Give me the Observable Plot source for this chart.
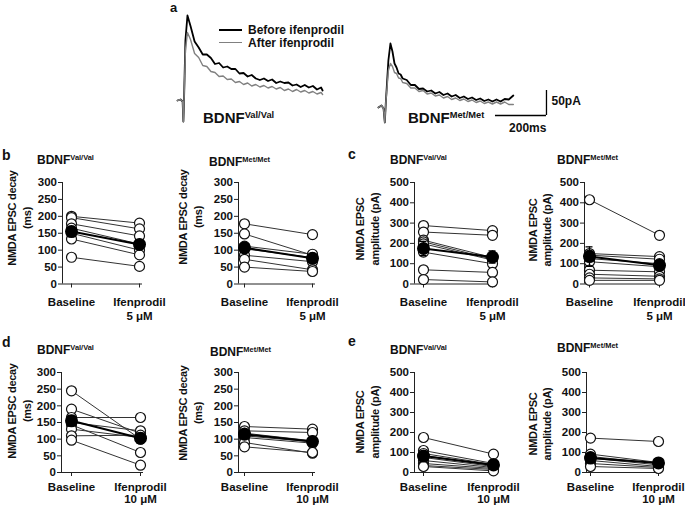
<!DOCTYPE html>
<html><head><meta charset="utf-8">
<script src="https://cdn.jsdelivr.net/npm/d3@7"></script>
<script src="https://cdn.jsdelivr.net/npm/@observablehq/plot@0.6"></script>
<style>
body{margin:0;background:#fff;}
#fig{position:relative;width:685px;height:508px;overflow:hidden;font-family:"Liberation Sans",Arial,sans-serif;font-weight:bold;color:#111;}
#fig .lab{position:absolute;white-space:nowrap;line-height:1;}
#fig svg{position:absolute;overflow:visible;}
#fig .ytitle{position:absolute;white-space:nowrap;text-align:center;transform:translate(-50%,-50%) rotate(-90deg);font-size:11px;letter-spacing:-0.3px;}
sup{font-size:0.62em;position:relative;top:-0.55em;vertical-align:baseline;line-height:0;}
</style>
</head><body><div id="fig"></div>
<script>
// ---------- Panel a: example traces (time ms, current pA relative to baseline) ----------
const valBeforeT = [0,12,20,23,25,31,39,51,67,83,99,115,131,147,163,179,195,211,227,243,259,275,291,307,323,339,355,371,387,403,419,435,451,467,483,499,515,531,547,563,569];
const valBeforeI = [0,2,-2,-42,-10,120,170,149,118,106,92,92,85,73,75,66,68,63,63,54,55,48,51,44,41,44,39,42,35,38,35,36,30,32,27,31,26,29,22,26,20];
const valAfterT  = [0,12,20,23,25,31,39,51,67,83,99,115,131,147,163,179,195,211,227,243,259,275,291,307,323,339,355,371,387,403,419,435,451,467,483,499,515,531,547,563,569];
const valAfterI  = [0,2,-2,-42,-10,100,136,122,94,86,70,68,58,56,48,49,42,43,36,38,32,35,29,32,27,30,25,28,23,26,20,23,18,22,17,20,15,18,13,16,12];
const metBeforeT = [0,12,20,25,29,39,47,55,63,71,79,87,95,111,127,143,159,175,191,207,223,239,255,271,287,303,319,335,351,367,383,399,415,431,447,463,479,495,511,529];
const metBeforeI = [0,4,-2,-30,10,94,128,112,88,80,68,66,58,55,45,45,37,38,32,34,28,31,25,28,22,25,19,22,17,20,15,18,13,16,12,16,12,17,16,24];
const metAfterT  = [0,12,20,25,29,39,47,55,63,71,79,87,95,111,127,143,159,175,191,207,223,239,255,271,287,303,319,335,351,367,383,399,415,431,447,463,479,495,511,529];
const metAfterI  = [0,4,-2,-30,10,74,88,82,70,68,59,58,50,48,39,39,32,34,27,29,23,25,19,22,16,19,14,17,12,15,10,13,8,11,7,11,7,11,6,6];
const scaleBarMs = 200, scaleBarPA = 50;

// ---------- Panels b-e: individual cells and mean ± SEM ----------
const conditions5  = ["Baseline", "Ifenprodil\n5 μM"];
const conditions10 = ["Baseline", "Ifenprodil\n10 μM"];
const bValBase = [200,196,178,165,150,133,79],  bValIfen = [180,163,142,118,100,86,52];
const bValMean = [155,117], bValSem = [15,14];
const bMetBase = [178,148,112,104,85,73,50],    bMetIfen = [146,85,88,78,66,42,37];
const bMetMean = [107,76],  bMetSem = [11,10];
const cValBase = [288,256,216,208,198,157,70,22], cValIfen = [263,240,130,122,118,100,57,10];
const cValMean = [175,133], cValSem = [35,30];
const cMetBase = [415,150,142,125,110,68,48,30,18], cMetIfen = [240,135,122,100,85,60,38,25,18];
const cMetMean = [135,92],  cMetSem = [48,22];
const dValBase = [245,190,165,150,143,130,110,97], dValIfen = [100,118,165,125,60,105,112,22];
const dValMean = [155,103], dValSem = [16,15];
const dMetBase = [138,125,118,110,105,90,77],   dMetIfen = [130,120,95,92,88,58,60];
const dMetMean = [115,93],  dMetSem = [9,10];
const eValBase = [175,110,95,85,75,60,45,35,30], eValIfen = [92,45,40,35,30,25,20,15,8];
const eValMean = [82,38],   eValSem = [15,9];
const eMetBase = [172,92,80,72,60,45,30],       eMetIfen = [155,50,45,38,30,25,20];
const eMetMean = [72,48],   eMetSem = [17,15];

const fig = document.getElementById("fig");
function lab(html, x, yc, size, extra) {
  const d = document.createElement("div");
  d.className = "lab";
  d.innerHTML = html;
  d.style.left = x + "px";
  d.style.top = (yc - size * 0.49) + "px";
  d.style.fontSize = size + "px";
  if (extra) Object.assign(d.style, extra);
  fig.appendChild(d);
  return d;
}
function ytitle(lines, cx, cy, lh) {
  const d = document.createElement("div");
  d.className = "ytitle";
  d.innerHTML = lines.join("<br>");
  d.style.left = cx + "px"; d.style.top = cy + "px";
  d.style.lineHeight = lh + "px";
  fig.appendChild(d);
}

// ---------- Panel a plot ----------
(function () {
  const metOffsetT = 788, metOffsetI = -14;
  const rows = [];
  valBeforeT.forEach((t, i) => rows.push({s: "vb", t, v: valBeforeI[i]}));
  valAfterT.forEach((t, i) => rows.push({s: "va", t, v: valAfterI[i]}));
  metBeforeT.forEach((t, i) => rows.push({s: "mb", t: t + metOffsetT, v: metBeforeI[i] + metOffsetI}));
  metAfterT.forEach((t, i) => rows.push({s: "ma", t: t + metOffsetT, v: metAfterI[i] + metOffsetI}));
  const barX = 1447, barY = -30;
  const svg = Plot.plot({
    width: 390, height: 135, margin: 0,
    x: {domain: [-27.5, 1502], axis: null},
    y: {domain: [-70, 200], axis: null},
    style: {fontFamily: "Liberation Sans, Arial, sans-serif", fontWeight: "bold", fontSize: "12px", background: "transparent"},
    marks: [
      Plot.line(rows.filter(d => d.s.endsWith("b")), {x: "t", y: "v", z: "s", stroke: "#000", strokeWidth: 1.8}),
      Plot.line(rows.filter(d => d.s.endsWith("a")), {x: "t", y: "v", z: "s", stroke: "#808080", strokeWidth: 1.4}),
      Plot.ruleY([barY], {x1: barX - scaleBarMs, x2: barX, stroke: "#000", strokeWidth: 1.3}),
      Plot.ruleX([barX], {y1: barY, y2: barY + scaleBarPA, stroke: "#000", strokeWidth: 1.3}),
      Plot.text([scaleBarPA + "pA"], {x: barX, y: barY + scaleBarPA / 2 + 3, text: d => d, textAnchor: "start", dx: 5, fill: "#111"}),
      Plot.text([scaleBarMs + "ms"], {x: barX, y: barY, text: d => d, textAnchor: "end", dy: 13, fill: "#111"})
    ]
  });
  svg.style.left = "170px"; svg.style.top = "0px";
  fig.appendChild(svg);
})();
lab("a", 170, 7.5, 13);
// legend
const l1 = document.createElement("div");
Object.assign(l1.style, {position: "absolute", left: "219px", top: "29px", width: "23px", borderTop: "2px solid #000"});
fig.appendChild(l1);
const l2 = document.createElement("div");
Object.assign(l2.style, {position: "absolute", left: "219px", top: "42px", width: "23px", borderTop: "1.5px solid #808080"});
fig.appendChild(l2);
lab("Before ifenprodil", 248, 30, 12);
lab("After ifenprodil", 248, 43, 12);
lab("BDNF<sup>Val/Val</sup>", 203, 117.5, 15);
lab("BDNF<sup>Met/Met</sup>", 408, 117.5, 15);

// ---------- scatter panels ----------
function panel(o) {
  const unit = o.iPx - o.bPx;
  const xmin = (o.axisPx - o.bPx) / unit;
  const xmax = 1 + (o.endPx - o.iPx) / unit;
  const mL = 40, mR = 30, mT = 8, mB = 40;
  const plotH = o.y1 - o.y0;
  const rows = [];
  o.base.forEach((v, i) => rows.push({cell: i, cond: 0, v}));
  o.ifen.forEach((v, i) => rows.push({cell: i, cond: 1, v}));
  const means = o.mean.map((m, i) => ({cond: i, m, s: o.sem[i]}));
  const cap = 3.5 / unit;
  const svg = Plot.plot({
    width: mL + (o.endPx - o.axisPx) + mR,
    height: mT + plotH + mB,
    marginLeft: mL, marginRight: mR, marginTop: mT, marginBottom: mB,
    x: {domain: [xmin, xmax], axis: null},
    y: {domain: [0, o.yMax], axis: null},
    style: {fontFamily: "Liberation Sans, Arial, sans-serif", fontWeight: "bold", fontSize: "11.5px", color: "#111", background: "transparent", overflow: "visible"},
    marks: [
      Plot.axisY({ticks: d3.range(0, o.yMax + 1, o.yStep), tickSize: 4, tickPadding: 1.5, label: null, fontSize: 11.5, stroke: "#222"}),
      Plot.axisX({ticks: [0, 1], tickFormat: d => o.labels[d], tickSize: 4, tickPadding: o.pad, label: null, lineHeight: o.lh, stroke: "#222"}),
      Plot.ruleX([xmin], {y1: 0, y2: o.yMax, stroke: "#222", strokeWidth: 1}),
      Plot.ruleY([0], {stroke: "#222", strokeWidth: 1}),
      Plot.line(rows, {x: "cond", y: "v", z: "cell", stroke: "#333", strokeWidth: 1}),
      Plot.dot(rows, {x: "cond", y: "v", r: 5, fill: "#fff", stroke: "#111", strokeWidth: 1.2}),
      Plot.line(means, {x: "cond", y: "m", stroke: "#000", strokeWidth: 2}),
      Plot.ruleX(means, {x: "cond", y1: d => d.m - d.s, y2: d => d.m + d.s, stroke: "#000", strokeWidth: 1.3}),
      Plot.ruleY(means, {y: d => d.m + d.s, x1: d => d.cond - cap, x2: d => d.cond + cap, stroke: "#000", strokeWidth: 1.3}),
      Plot.ruleY(means, {y: d => d.m - d.s, x1: d => d.cond - cap, x2: d => d.cond + cap, stroke: "#000", strokeWidth: 1.3}),
      Plot.dot(means, {x: "cond", y: "m", r: 6.5, fill: "#000"})
    ]
  });
  svg.style.left = (o.axisPx - mL) + "px";
  svg.style.top = (o.y0 - mT) + "px";
  fig.appendChild(svg);
  lab("BDNF<sup>" + o.geno + "</sup>", o.tx, o.ty, 12);
  ytitle(o.ytitle, o.ycx, o.ycy, o.ylh);
}
const decayT = ["NMDA EPSC decay", "(ms)"];
const ampT = ["NMDA EPSC", "amplitude (pA)"];
const r1 = {y0: 182, y1: 283.5, pad: 8, lh: 1.2};
const r2 = {y0: 372, y1: 472, pad: 6.5, lh: 1.02};
panel({...r1, axisPx: 62, bPx: 71, iPx: 139, endPx: 142, yMax: 300, yStep: 50, labels: conditions5,
  base: bValBase, ifen: bValIfen, mean: bValMean, sem: bValSem, geno: "Val/Val", tx: 37, ty: 160, ytitle: decayT, ycx: 19, ycy: 218, ylh: 14.5});
panel({...r1, axisPx: 238, bPx: 244, iPx: 312, endPx: 315, yMax: 300, yStep: 50, labels: conditions5,
  base: bMetBase, ifen: bMetIfen, mean: bMetMean, sem: bMetSem, geno: "Met/Met", tx: 209, ty: 162, ytitle: decayT, ycx: 189.5, ycy: 217, ylh: 14.5});
panel({...r1, axisPx: 414, bPx: 423, iPx: 492, endPx: 495, yMax: 500, yStep: 100, labels: conditions5,
  base: cValBase, ifen: cValIfen, mean: cValMean, sem: cValSem, geno: "Val/Val", tx: 390, ty: 160, ytitle: ampT, ycx: 367.5, ycy: 229, ylh: 15});
panel({...r1, axisPx: 584, bPx: 589, iPx: 659, endPx: 662, yMax: 500, yStep: 100, labels: conditions5,
  base: cMetBase, ifen: cMetIfen, mean: cMetMean, sem: cMetSem, geno: "Met/Met", tx: 557, ty: 160, ytitle: ampT, ycx: 540, ycy: 230, ylh: 14});
panel({...r2, axisPx: 61, bPx: 71, iPx: 140, endPx: 143, yMax: 300, yStep: 50, labels: conditions10,
  base: dValBase, ifen: dValIfen, mean: dValMean, sem: dValSem, geno: "Val/Val", tx: 37, ty: 350, ytitle: decayT, ycx: 19, ycy: 411, ylh: 14.5});
panel({...r2, axisPx: 238, bPx: 244, iPx: 312, endPx: 315, yMax: 300, yStep: 50, labels: conditions10,
  base: dMetBase, ifen: dMetIfen, mean: dMetMean, sem: dMetSem, geno: "Met/Met", tx: 210, ty: 352, ytitle: decayT, ycx: 189.5, ycy: 413, ylh: 14.5});
panel({...r2, axisPx: 414, bPx: 423, iPx: 493, endPx: 496, yMax: 500, yStep: 100, labels: conditions10,
  base: eValBase, ifen: eValIfen, mean: eValMean, sem: eValSem, geno: "Val/Val", tx: 390, ty: 350, ytitle: ampT, ycx: 367.5, ycy: 422, ylh: 15});
panel({...r2, axisPx: 586, bPx: 590, iPx: 658, endPx: 661, yMax: 500, yStep: 100, labels: conditions10,
  base: eMetBase, ifen: eMetIfen, mean: eMetMean, sem: eMetSem, geno: "Met/Met", tx: 557, ty: 348, ytitle: ampT, ycx: 540, ycy: 424, ylh: 14});
lab("b", 2, 155, 14);
lab("c", 348, 154, 14);
lab("d", 2, 342, 14);
lab("e", 348, 341, 14);
</script>
</body></html>
